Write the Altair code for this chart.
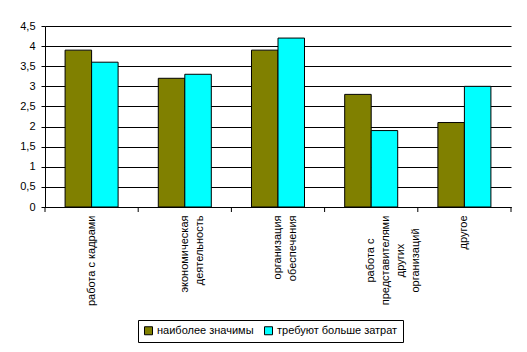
import altair as alt
import pandas as pd

categories = [
    "работа с кадрами",
    "экономическая\nдеятельность",
    "организация\nобеспечения",
    "работа с\nпредставителями\nдругих\nорганизаций",
    "другое",
]
series = ["наиболее значимы", "требуют больше затрат"]
most_important = [3.9, 3.2, 3.9, 2.8, 2.1]
more_costly = [3.6, 3.3, 4.2, 1.9, 3.0]
colors = ["#808000", "#00FFFF"]
y_ticks = [0, 0.5, 1, 1.5, 2, 2.5, 3, 3.5, 4, 4.5]

rows = []
for c, a, b in zip(categories, most_important, more_costly):
    rows.append({"cat": c, "series": series[0], "value": a})
    rows.append({"cat": c, "series": series[1], "value": b})
df = pd.DataFrame(rows)
cat_df = pd.DataFrame({"cat": categories})
last_df = pd.DataFrame({"cat": categories[-1:]})

FONT = "Liberation Sans"
multi = "indexof(datum.label, 'других') >= 0"

x_scale = alt.Scale(paddingInner=0, paddingOuter=0)

bars = alt.Chart(df).mark_bar(stroke="black", strokeWidth=1).encode(
    x=alt.X(
        "cat:N",
        sort=categories,
        scale=x_scale,
        axis=alt.Axis(
            orient="bottom",
            title=None,
            labelAngle=-90,
            ticks=False,
            domain=True,
            domainColor="black",
            labelAlign={"condition": {"test": multi, "value": "center"}, "value": "right"},
            labelPadding={"condition": {"test": multi, "value": 53}, "value": 8},
            labelColor="black",
            labelFontSize=11,
            labelFont=FONT,
            labelLineHeight=15,
            labelExpr="split(datum.label, '\\n')",
        ),
    ),
    xOffset=alt.XOffset(
        "series:N", sort=series, scale=alt.Scale(paddingInner=0, paddingOuter=0.758)
    ),
    y=alt.Y(
        "value:Q",
        scale=alt.Scale(domain=[0, 4.5], nice=False),
        axis=alt.Axis(
            values=y_ticks,
            title=None,
            grid=True,
            gridColor="black",
            gridOpacity=1,
            gridWidth=1,
            domainColor="black",
            tickColor="black",
            tickSize=4,
            labelPadding=6,
            labelColor="black",
            labelFontSize=11,
            labelFont=FONT,
            labelOverlap=False,
            labelExpr="replace(format(datum.value, '~g'), '.', ',')",
        ),
    ),
    color=alt.Color(
        "series:N",
        sort=series,
        scale=alt.Scale(domain=series, range=colors),
        legend=alt.Legend(
            title=None,
            orient="none",
            legendX=93,
            legendY=294,
            direction="horizontal",
            strokeColor="black",
            padding=5,
            symbolType="square",
            symbolSize=64,
            symbolStrokeColor="black",
            symbolStrokeWidth=1,
            symbolOpacity=1,
            labelFontSize=11,
            labelFont=FONT,
            labelColor="black",
            columnPadding=8,
            labelOffset=3,
        ),
    ),
)

tick_marks = alt.Chart(cat_df).mark_rule(color="black", strokeWidth=1).encode(
    x=alt.X("cat:N", sort=categories, bandPosition=0),
    y=alt.value(181),
    y2=alt.value(186),
)

last_tick = alt.Chart(last_df).mark_rule(color="black", strokeWidth=1).encode(
    x=alt.X("cat:N", sort=categories, bandPosition=1),
    y=alt.value(181),
    y2=alt.value(186),
)

chart = (
    alt.layer(bars, tick_marks, last_tick)
    .properties(
        width=466,
        height=181,
        autosize=alt.AutoSizeParams(type="none"),
        padding={"left": 45, "top": 26, "right": 16, "bottom": 145},
        background="white",
    )
    .configure_view(stroke=None)
)

chart.save("out.html", embed_options={"renderer": "svg", "actions": False})
